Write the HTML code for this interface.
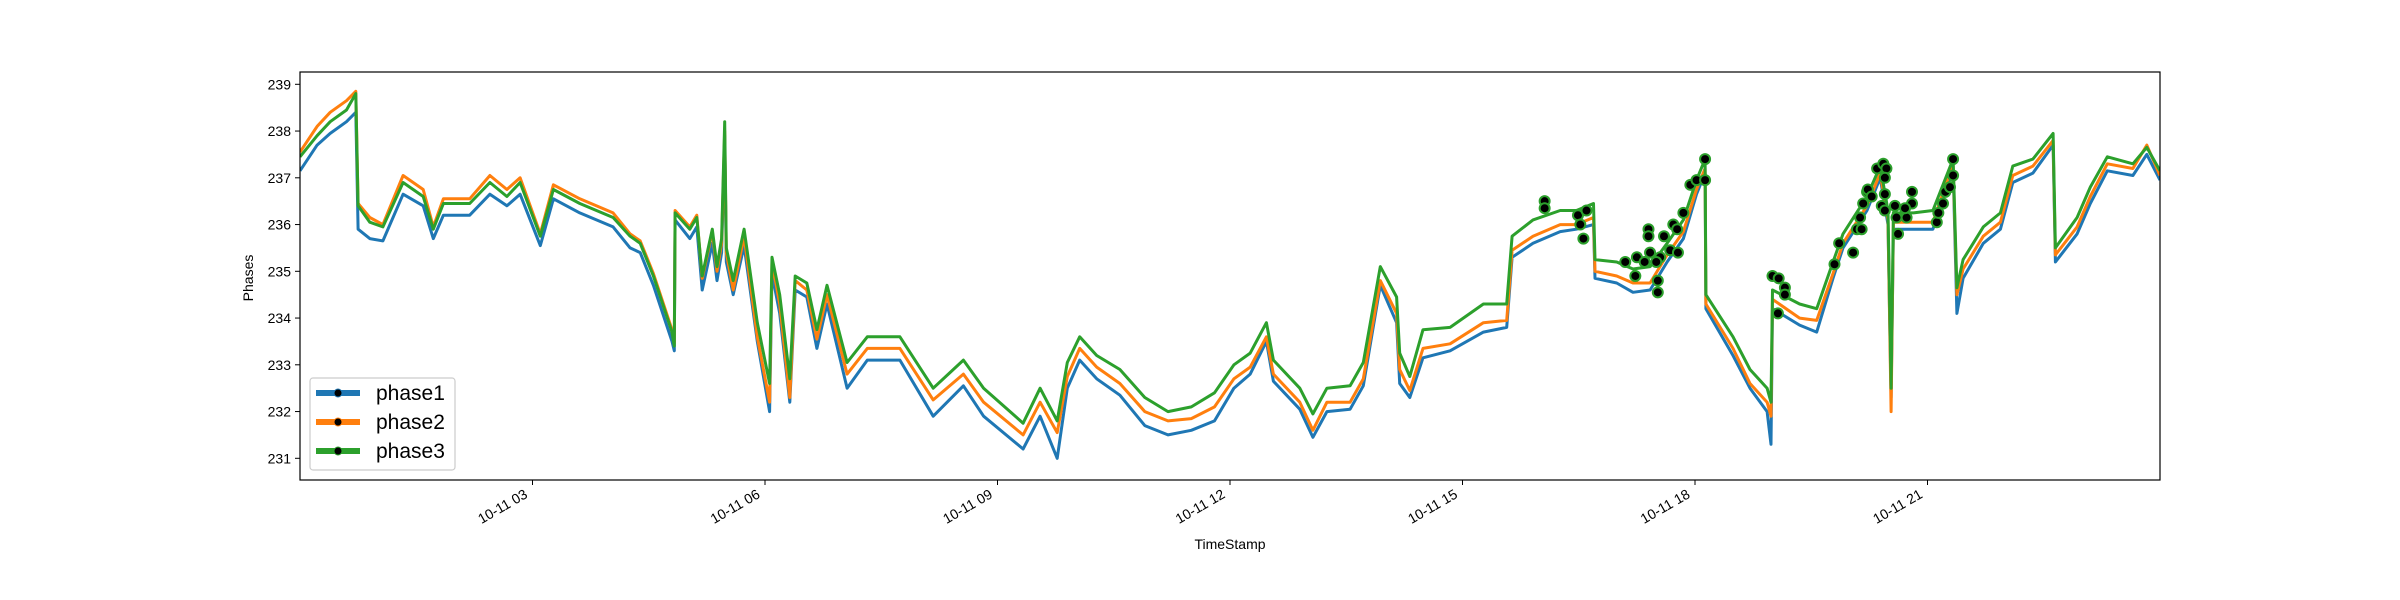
<!DOCTYPE html>
<html><head><meta charset="utf-8"><style>
html,body{margin:0;padding:0;background:#fff;}
svg{display:block;font-family:"Liberation Sans","DejaVu Sans",sans-serif;}
</style></head><body>
<svg id="chart" width="2400" height="600" viewBox="0 0 2400 600" xmlns="http://www.w3.org/2000/svg">
<rect x="0" y="0" width="2400" height="600" fill="#fff"/>
<g id="plot"></g>
<g id="axes"></g>
<text x="0" y="0" transform="translate(253,278) rotate(-90)" text-anchor="middle" font-size="14">Phases</text>
<text x="1230" y="549" text-anchor="middle" font-size="14">TimeStamp</text>
<g>
<rect x="310" y="378" width="145" height="92" rx="3" fill="#fff" fill-opacity="0.8" stroke="#ccc" stroke-width="1.2"/>
<g><line x1="316" y1="393" x2="360" y2="393" stroke="#1f77b4" stroke-width="6"/><circle cx="338" cy="393" r="4" fill="#000" stroke="#1f77b4" stroke-width="1"/><text x="376" y="400" font-size="21">phase1</text></g>
<g><line x1="316" y1="422" x2="360" y2="422" stroke="#ff7f0e" stroke-width="6"/><circle cx="338" cy="422" r="4" fill="#000" stroke="#ff7f0e" stroke-width="1"/><text x="376" y="429" font-size="21">phase2</text></g>
<g><line x1="316" y1="451" x2="360" y2="451" stroke="#2ca02c" stroke-width="6"/><circle cx="338" cy="451" r="4" fill="#000" stroke="#2ca02c" stroke-width="1"/><text x="376" y="458" font-size="21">phase3</text></g>
</g>
</svg>
<script>
const times=[0,0.22,0.39,0.6,0.72,0.75,0.9,1.07,1.33,1.59,1.72,1.85,2.19,2.45,2.67,2.84,3.1,3.27,3.61,4.04,4.26,4.39,4.56,4.8,4.83,4.84,5.03,5.12,5.19,5.32,5.38,5.44,5.48,5.5,5.59,5.73,5.9,6.06,6.09,6.19,6.32,6.39,6.54,6.67,6.8,7.06,7.32,7.74,8.17,8.56,8.82,9.33,9.55,9.77,9.9,10.06,10.28,10.58,
10.9,11.2,11.5,11.8,12.05,
12.26,12.47,12.56,12.9,13.07,13.25,13.55,13.72,13.94,14.15,14.19,14.32,14.49,14.84,15.27,15.57,15.64,15.91,16.26,16.47,16.69,16.71,16.99,17.2,17.42,17.64,17.85,18.02,18.13,18.14,18.49,18.71,18.93,18.98,19.0,19.35,19.57,19.78,19.91,20.22,20.39,20.49,20.53,20.56,20.82,21.07,21.33,21.38,21.46,21.72,21.94,22.1,22.36,22.62,22.65,22.93,23.1,23.32,23.65,23.83,24];
const phase1=[237.15,237.7,237.95,238.2,238.4,235.9,235.7,235.65,236.65,236.4,235.7,236.2,236.2,236.65,236.4,236.65,235.55,236.55,236.25,235.95,235.5,235.4,234.7,233.5,233.3,236.1,235.7,235.95,234.6,235.6,234.8,235.4,237.9,235.2,234.5,235.55,233.5,232.0,234.95,234.1,232.2,234.6,234.45,233.35,234.3,232.5,233.1,233.1,231.9,232.55,231.9,231.2,231.9,231.0,232.5,233.1,232.7,232.35,
231.7,231.5,231.6,231.8,232.5,
232.8,233.5,232.65,232.05,231.45,232.0,232.05,232.55,234.7,233.9,232.6,232.3,233.15,233.3,233.7,233.8,235.3,235.6,235.85,235.9,236.0,234.85,234.75,234.55,234.6,235.2,235.7,236.65,237.1,234.2,233.2,232.5,232.0,231.3,234.2,233.85,233.7,234.85,235.5,236.3,237.0,236.0,232.3,235.9,235.9,235.9,237.2,234.1,234.85,235.6,235.9,236.9,237.1,237.7,235.2,235.8,236.45,237.15,237.05,237.5,236.95];
const phase2=[237.55,238.1,238.4,238.65,238.85,236.45,236.15,236.0,237.05,236.75,235.95,236.55,236.55,237.05,236.75,237.0,235.8,236.85,236.55,236.25,235.8,235.65,234.95,233.75,233.45,236.3,235.95,236.2,234.85,235.85,235.0,235.6,238.0,235.4,234.6,235.75,233.6,232.2,235.2,234.3,232.3,234.8,234.6,233.55,234.5,232.8,233.35,233.35,232.25,232.8,232.2,231.5,232.2,231.55,232.75,233.35,232.95,232.6,
232.0,231.8,231.85,232.1,232.7,
232.95,233.6,232.8,232.2,231.6,232.2,232.2,232.7,234.8,234.1,232.9,232.45,233.35,233.45,233.9,233.95,235.45,235.75,236.0,236.0,236.15,235.0,234.9,234.75,234.75,235.35,235.85,236.75,237.2,234.3,233.35,232.6,232.2,231.9,234.4,234.0,233.95,234.95,235.6,236.4,237.1,236.1,232.0,236.05,236.05,236.05,237.3,234.5,235.05,235.75,236.05,237.05,237.25,237.8,235.35,235.95,236.6,237.3,237.2,237.7,237.05];
const phase3=[237.45,237.9,238.2,238.45,238.8,236.4,236.05,235.95,236.9,236.6,235.9,236.45,236.45,236.9,236.6,236.9,235.75,236.75,236.45,236.15,235.75,235.6,234.9,233.7,233.4,236.25,235.9,236.15,234.9,235.9,235.1,235.7,238.2,235.5,234.8,235.9,233.9,232.6,235.3,234.5,232.7,234.9,234.75,233.75,234.7,233.05,233.6,233.6,232.5,233.1,232.5,231.75,232.5,231.8,233.05,233.6,233.2,232.9,
232.3,232.0,232.1,232.4,233.0,
233.25,233.9,233.1,232.5,231.95,232.5,232.55,233.05,235.1,234.45,233.25,232.75,233.75,233.8,234.3,234.3,235.75,236.1,236.3,236.3,236.45,235.25,235.2,235.05,235.1,235.6,236.1,236.95,237.4,234.5,233.6,232.9,232.5,232.2,234.6,234.3,234.2,235.2,235.8,236.6,237.25,236.3,232.5,236.25,236.25,236.3,237.4,234.65,235.25,235.95,236.25,237.25,237.4,237.95,235.5,236.15,236.8,237.45,237.3,237.65,237.15];
const markerTimes=[16.06,16.06,16.49,16.6,16.52,16.56,17.1,17.25,17.23,17.4,17.4,17.42,17.35,17.52,17.52,17.6,17.68,17.72,17.77,17.78,17.55,17.5,17.85,17.94,18.02,18.13,18.13,19.0,19.08,19.16,19.16,19.07,19.8,19.86,20.04,20.09,20.15,20.13,20.17,20.22,20.23,20.28,20.35,20.43,20.47,20.45,20.45,20.41,20.45,20.58,20.6,20.62,20.73,20.8,20.8,20.71,21.12,21.14,21.2,21.23,21.29,21.33,21.33];
const markerValues=[236.5,236.35,236.2,236.3,236.0,235.7,235.2,235.3,234.9,235.9,235.75,235.4,235.2,234.55,234.8,235.75,235.45,236.0,235.9,235.4,235.3,235.2,236.25,236.85,236.95,236.95,237.4,234.9,234.85,234.65,234.5,234.1,235.15,235.6,235.4,235.9,235.9,236.15,236.45,236.7,236.75,236.6,237.2,237.3,237.2,237.0,236.65,236.4,236.3,236.4,236.15,235.8,236.15,236.45,236.7,236.35,236.05,236.25,236.45,236.7,236.8,237.05,237.4];
const yTicks=[231,232,233,234,235,236,237,238,239];
const xTicks=[3,6,9,12,15,18,21];
const xTickLabels=["10-11 03","10-11 06","10-11 09","10-11 12","10-11 15","10-11 18","10-11 21"];

const NS="http://www.w3.org/2000/svg";
const L=300,R=2160,T=72,B=480;
const xs=h=>L+(h-0)*(R-L)/24;
const ys=v=>84.3+(239-v)*46.75;
const plot=document.getElementById('plot');
const axes=document.getElementById('axes');
function mk(tag,parent){const e=document.createElementNS(NS,tag);parent.appendChild(e);return e;}

const clip=mk('clipPath',plot);clip.setAttribute('id','clipA');
const cr=mk('rect',clip);cr.setAttribute('x',L);cr.setAttribute('y',T);cr.setAttribute('width',R-L);cr.setAttribute('height',B-T);

const seriesList=[[phase1,'#1f77b4','phase1-line'],[phase2,'#ff7f0e','phase2-line'],[phase3,'#2ca02c','phase3-line']];
seriesList.forEach(s=>{
  const p=mk('path',plot);
  
  
  p.setAttribute('d',times.map((t,i)=>(i?'L':'M')+xs(t).toFixed(1)+','+ys(s[0][i]).toFixed(1)).join(''));
  p.setAttribute('fill','none');p.setAttribute('stroke',s[1]);p.setAttribute('stroke-width','3');
  p.setAttribute('stroke-linejoin','round');p.setAttribute('clip-path','url(#clipA)');
});
markerTimes.forEach((t,i)=>{
  const c=mk('circle',plot);
  
  
  c.setAttribute('cx',xs(t));c.setAttribute('cy',ys(markerValues[i]));c.setAttribute('r','5');
  c.setAttribute('fill','#000');c.setAttribute('stroke','#2ca02c');c.setAttribute('stroke-width','2');
});

const frame=mk('rect',axes);


frame.setAttribute('x',L);frame.setAttribute('y',T);frame.setAttribute('width',R-L);frame.setAttribute('height',B-T);
frame.setAttribute('fill','none');frame.setAttribute('stroke','#000');frame.setAttribute('stroke-width','1.2');

yTicks.forEach(v=>{
  const y=ys(v);
  const l=mk('line',axes);
  
  
  l.setAttribute('x1',L-5);l.setAttribute('x2',L);l.setAttribute('y1',y);l.setAttribute('y2',y);l.setAttribute('stroke','#000');
  const t=mk('text',axes);
  
  
  t.setAttribute('x',L-9);t.setAttribute('y',y+5);t.setAttribute('text-anchor','end');t.setAttribute('font-size','14');
  t.textContent=v;
});
xTicks.forEach((h,i)=>{
  const x=xs(h);
  const l=mk('line',axes);
  
  
  l.setAttribute('x1',x);l.setAttribute('x2',x);l.setAttribute('y1',B);l.setAttribute('y2',B+5);l.setAttribute('stroke','#000');
  const t=mk('text',axes);
  
  
  t.setAttribute('text-anchor','end');t.setAttribute('font-size','14');
  t.setAttribute('transform','translate('+(x-4)+','+(B+17)+') rotate(-30)');
  t.textContent=xTickLabels[i];
});
</script>
</body></html>
